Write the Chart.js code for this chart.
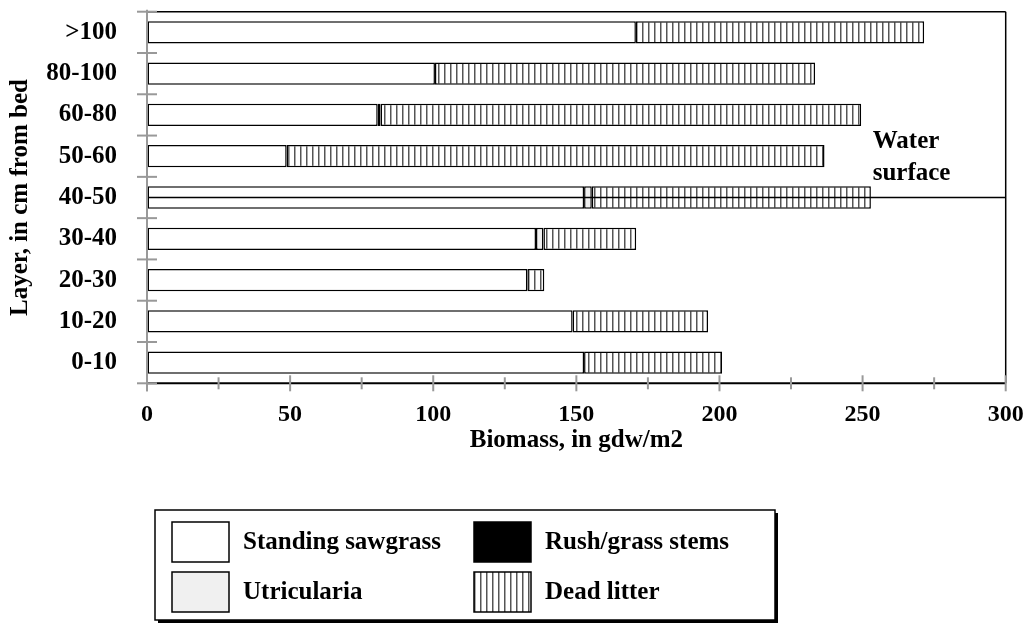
<!DOCTYPE html>
<html>
<head>
<meta charset="utf-8">
<script src="https://cdn.jsdelivr.net/npm/chart.js@4"></script>
<style>
  html, body { margin: 0; padding: 0; background: #fff; }
</style>
</head>
<body>
<canvas id="myChart" width="1026" height="623"></canvas>
<script>
// layers, top to bottom as in the figure
const layers = ['>100', '80-100', '60-80', '50-60', '40-50', '30-40', '20-30', '10-20', '0-10'];
const sawgrass    = [170.8, 100.6, 80.6, 48.8, 152.7, 135.9, 132.9, 148.7, 152.7];
const rushStems   = [0, 0, 1.0, 0, 0, 0, 0, 0, 0];
const utricularia = [0, 0, 0, 0, 2.7, 2.6, 0, 0, 0];
const deadLitter  = [100.7, 132.8, 167.9, 187.9, 97.5, 32.4, 5.9, 47.3, 48.2];
const waterLayer = '40-50';

const serif = '"Liberation Serif", "Times New Roman", serif';
const bigFont = { family: serif, size: 25, weight: 'bold' };

function hatchPattern() {
    const c = document.createElement('canvas');
    c.width = 6; c.height = 4;
    const g = c.getContext('2d');
    g.fillStyle = '#fff'; g.fillRect(0, 0, 6, 4);
    g.fillStyle = '#555'; g.fillRect(0, 0, 1, 4);
    g.fillStyle = '#aaa'; g.fillRect(1, 0, 1, 4);
    return g.createPattern(c, 'repeat');
}
const hatch = hatchPattern();

function barSet(label, data, fill) {
    return {
        label: label,
        data: data,
        backgroundColor: fill,
        borderColor: '#000',
        borderWidth: 1.5,
        borderSkipped: false,
        barPercentage: 0.54,
        categoryPercentage: 1
    };
}

function line(ctx, x1, y1, x2, y2) {
    ctx.beginPath(); ctx.moveTo(x1, y1); ctx.lineTo(x2, y2); ctx.stroke();
}

const framePlugin = {
    id: 'frame',
    afterDatasetsDraw(chart) {
        const {ctx, chartArea: a, scales: {x, y}} = chart;
        ctx.save();
        ctx.strokeStyle = '#000';
        ctx.lineWidth = 1.5;
        line(ctx, a.left, a.top, a.right, a.top);
        line(ctx, a.right, a.top, a.right, a.bottom);
        // water surface line
        const wy = y.getPixelForValue(layers.indexOf(waterLayer));
        line(ctx, a.left, wy, a.right, wy);
        ctx.lineWidth = 2;
        line(ctx, a.left, a.bottom, a.right, a.bottom);
        // left axis + ticks (grey)
        ctx.strokeStyle = '#999';
        line(ctx, a.left, a.top - 2, a.left, a.bottom + 8);
        const step = (a.bottom - a.top) / layers.length;
        for (let i = 0; i <= layers.length; i++) {
            const yy = a.top + i * step;
            line(ctx, a.left - 10, yy, a.left + 10, yy);
        }
        x.ticks.forEach(t => {
            const px = x.getPixelForValue(t.value);
            const h = t.value % 50 === 0 ? 8 : 6;
            line(ctx, px, a.bottom - h, px, a.bottom + h);
        });
        ctx.fillStyle = '#000';
        ctx.font = 'bold 25px ' + serif;
        ctx.textAlign = 'left';
        ctx.textBaseline = 'alphabetic';
        ctx.fillText('Water', a.right - 133, 148);
        ctx.fillText('surface', a.right - 133, 180);
        ctx.restore();
    },
    afterDraw(chart) {
        const ctx = chart.ctx;
        const ds = chart.data.datasets;
        ctx.save();
        // legend box with shadow
        const bx = 155, by = 510, bw = 620, bh = 110;
        ctx.fillStyle = '#000';
        ctx.fillRect(bx + 3, by + 3, bw, bh);
        ctx.fillStyle = '#fff';
        ctx.fillRect(bx, by, bw, bh);
        ctx.strokeStyle = '#000';
        ctx.lineWidth = 1.5;
        ctx.strokeRect(bx, by, bw, bh);
        // sawgrass, rush on row 1; utricularia, dead litter on row 2
        const cols = [172, 474];
        const rows = [522, 572];
        ctx.font = 'bold 25px ' + serif;
        ctx.textBaseline = 'middle';
        ctx.textAlign = 'left';
        ds.forEach((d, i) => {
            const sx = cols[i % 2], sy = rows[Math.floor(i / 2)];
            ctx.fillStyle = d.backgroundColor;
            ctx.fillRect(sx, sy, 57, 40);
            ctx.strokeStyle = '#000';
            ctx.lineWidth = 1.5;
            ctx.strokeRect(sx, sy, 57, 40);
            ctx.fillStyle = '#000';
            ctx.fillText(d.label, sx + 71, sy + 21);
        });
        ctx.restore();
    }
};

const config = {
    type: 'bar',
    data: {
        labels: layers,
        datasets: [
            barSet('Standing sawgrass', sawgrass, '#fff'),
            barSet('Rush/grass stems', rushStems, '#000'),
            barSet('Utricularia', utricularia, '#f0f0f0'),
            barSet('Dead litter', deadLitter, hatch)
        ]
    },
    options: {
        indexAxis: 'y',
        responsive: false,
        animation: false,
        layout: { padding: { top: 11.7, right: 20.3, left: 0, bottom: 0 } },
        plugins: { legend: { display: false }, tooltip: { enabled: false } },
        scales: {
            x: {
                stacked: true,
                min: 0,
                max: 300,
                grid: { display: true, drawOnChartArea: false, drawTicks: true, tickLength: 22, color: 'rgba(0,0,0,0)' },
                border: { display: false },
                ticks: {
                    stepSize: 25,
                    autoSkip: false,
                    maxRotation: 0,
                    padding: 0,
                    color: '#000',
                    font: { family: serif, size: 24, weight: 'bold', lineHeight: 0.8 },
                    callback: v => (v % 50 === 0 ? v : '')
                },
                title: {
                    display: true,
                    text: 'Biomass, in gdw/m2',
                    color: '#000',
                    font: bigFont,
                    padding: { top: 0, bottom: 167 }
                },
                afterFit: s => { s.height = 239.7; }
            },
            y: {
                stacked: true,
                grid: { display: true, drawOnChartArea: false, drawTicks: true, tickLength: 30, color: 'rgba(0,0,0,0)' },
                border: { display: false },
                ticks: {
                    padding: 0,
                    color: '#000',
                    font: { family: serif, size: 25, weight: 'bold', lineHeight: 0.8 }
                },
                title: {
                    display: true,
                    text: 'Layer, in cm from bed',
                    color: '#000',
                    font: bigFont,
                    padding: { top: 5.6, bottom: 0 }
                },
                afterFit: s => { s.width = 147; }
            }
        }
    },
    plugins: [framePlugin]
};

const myChart = new Chart(document.getElementById('myChart'), config);
</script>
</body>
</html>
